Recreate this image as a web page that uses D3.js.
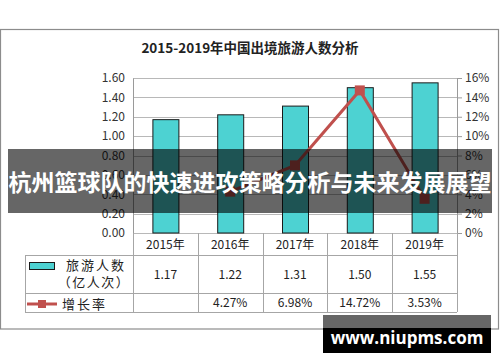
<!DOCTYPE html>
<html><head><meta charset="utf-8">
<script src="https://cdn.jsdelivr.net/npm/d3@7/dist/d3.min.js"></script>
<style>body{margin:0;background:#fff;}svg{display:block;}</style>
</head><body><svg id="c" width="500" height="362"></svg>
<script>
const years = ["2015年","2016年","2017年","2018年","2019年"];
const tourists = [1.17, 1.22, 1.31, 1.50, 1.55];
const growth = [null, 4.27, 6.98, 14.72, 3.53];
const touristLabels = ["1.17","1.22","1.31","1.50","1.55"];
const growthLabels = ["","4.27%","6.98%","14.72%","3.53%"];
const leftTicks = [0,0.2,0.4,0.6,0.8,1.0,1.2,1.4,1.6];
const rightTicks = [0,2,4,6,8,10,12,14,16];

const svg = d3.select("#c");
const font = "'Noto Sans CJK SC','Noto Sans',sans-serif";
const L = 133, R = 457, T = 78, B = 233;
const x = d3.scaleBand().domain(years).range([L, R]).paddingInner(0).paddingOuter(0);
const yL = d3.scaleLinear().domain([0, 1.6]).range([B, T]);
const yR = d3.scaleLinear().domain([0, 16]).range([B, T]);

// outer border
svg.append("rect").attr("x",0.5).attr("y",29.5).attr("width",498).attr("height",299.5)
  .attr("fill","#fff").attr("stroke","#8c8c8c").attr("stroke-width",1.2);

// title
svg.append("text").attr("x",250).attr("y",53).attr("text-anchor","middle")
  .attr("font-family",font).attr("font-weight","bold").attr("font-size",13.5).attr("fill","#222")
  .text("2015-2019年中国出境旅游人数分析");

// gridlines
svg.append("g").selectAll("line").data(leftTicks).join("line")
  .attr("x1",L).attr("x2",R).attr("y1",d=>Math.round(yL(d))+0.5).attr("y2",d=>Math.round(yL(d))+0.5)
  .attr("stroke","#b8b8b8").attr("stroke-width",1);

// left axis
const gl = svg.append("g").attr("transform",`translate(${L},0)`)
  .call(d3.axisLeft(yL).tickValues(leftTicks).tickFormat(d3.format(".2f")).tickSize(0).tickPadding(8));
gl.select(".domain").attr("stroke","#9a9a9a");
gl.selectAll("text").attr("font-family",font).attr("font-size",12).attr("fill","#333");

// right axis
const gr = svg.append("g").attr("transform",`translate(${R},0)`)
  .call(d3.axisRight(yR).tickValues(rightTicks).tickFormat(d=>d+"%").tickSize(5).tickPadding(3));
gr.select(".domain").attr("stroke","#9a9a9a");
gr.selectAll(".tick line").attr("stroke","#9a9a9a");
gr.selectAll("text").attr("font-family",font).attr("font-size",12).attr("fill","#333");

// bars
const bw = 26;
svg.append("g").selectAll("rect").data(tourists).join("rect")
  .attr("x",(d,i)=>x(years[i])+x.bandwidth()/2-bw/2+0.5)
  .attr("y",d=>yL(d)).attr("width",bw).attr("height",d=>B-yL(d))
  .attr("fill","#4dd2d2").attr("stroke","#1a1a1a").attr("stroke-width",1);

// line
const pts = growth.map((v,i)=>({v,i})).filter(d=>d.v!==null);
const line = d3.line().x(d=>x(years[d.i])+x.bandwidth()/2).y(d=>yR(d.v));
svg.append("path").datum(pts).attr("d",line).attr("fill","none")
  .attr("stroke","#c0504d").attr("stroke-width",3);
svg.append("g").selectAll("rect").data(pts).join("rect")
  .attr("x",d=>x(years[d.i])+x.bandwidth()/2-5).attr("y",d=>yR(d.v)-5)
  .attr("width",10).attr("height",10).attr("fill","#c0504d");

// table
const tg = svg.append("g");
const TL = 25, H0 = 233, H1 = 255, H2 = 293, H3 = 312;
const tstroke = "#a6a6a6";
function hl(x1,x2,y){tg.append("line").attr("x1",x1).attr("x2",x2).attr("y1",y+0.5).attr("y2",y+0.5).attr("stroke",tstroke);}
function vl(xx,y1,y2){tg.append("line").attr("x1",xx+0.5).attr("x2",xx+0.5).attr("y1",y1).attr("y2",y2).attr("stroke",tstroke);}
hl(TL,R,H1); hl(TL,R,H2); hl(TL,R,H3);
vl(TL,H1,H3);
const bounds = years.map(y=>x(y)).concat([R]);
bounds.forEach(b=>vl(Math.round(b),H0,H3));
// header years
tg.selectAll("text.yr").data(years).join("text").attr("class","yr")
  .attr("x",d=>x(d)+x.bandwidth()/2).attr("y",249).attr("text-anchor","middle")
  .attr("font-family",font).attr("font-size",12).attr("fill","#222").text(d=>d);
tg.selectAll("text.v1").data(touristLabels).join("text").attr("class","v1")
  .attr("x",(d,i)=>x(years[i])+x.bandwidth()/2).attr("y",279).attr("text-anchor","middle")
  .attr("font-family",font).attr("font-size",12).attr("fill","#222").text(d=>d);
tg.selectAll("text.v2").data(growthLabels).join("text").attr("class","v2")
  .attr("x",(d,i)=>x(years[i])+x.bandwidth()/2).attr("y",307).attr("text-anchor","middle")
  .attr("font-family",font).attr("font-size",12).attr("fill","#222").text(d=>d);
// legend cells
tg.append("rect").attr("x",29.5).attr("y",262.5).attr("width",25).attr("height",7)
  .attr("fill","#4dd2d2").attr("stroke","#1a1a1a");
tg.append("text").attr("x",96).attr("y",270).attr("text-anchor","middle").attr("letter-spacing",2)
  .attr("font-family",font).attr("font-size",13).attr("fill","#222").text("旅游人数");
tg.append("text").attr("x",94).attr("y",287).attr("text-anchor","middle").attr("letter-spacing",1.5)
  .attr("font-family",font).attr("font-size",13).attr("fill","#222").text("（亿人次）");
tg.append("line").attr("x1",27).attr("x2",57).attr("y1",304).attr("y2",304)
  .attr("stroke","#c0504d").attr("stroke-width",3);
tg.append("rect").attr("x",38).attr("y",300).attr("width",8).attr("height",8).attr("fill","#c0504d");
tg.append("text").attr("x",62).attr("y",309).attr("letter-spacing",2)
  .attr("font-family",font).attr("font-size",13).attr("fill","#222").text("增长率");

// banner
svg.append("rect").attr("x",8).attr("y",149).attr("width",484).attr("height",64).attr("fill","rgba(0,0,0,0.6)");
svg.append("text").attr("x",250).attr("y",191).attr("text-anchor","middle")
  .attr("font-family",font).attr("font-weight","bold").attr("font-size",23).attr("fill","#fff")
  .text("杭州篮球队的快速进攻策略分析与未来发展展望");

// watermark
svg.append("rect").attr("x",323).attr("y",315).attr("width",168).attr("height",14).attr("fill","rgba(0,0,0,0.6)");
svg.append("rect").attr("x",323).attr("y",328).attr("width",168).attr("height",25).attr("fill","#000");
svg.append("text").attr("x",407).attr("y",344).attr("text-anchor","middle")
  .attr("font-family","'Open Sans','DejaVu Sans',sans-serif").attr("font-weight","bold").attr("font-size",17).attr("fill","#fff")
  .text("www.niupms.com");
</script></body></html>
